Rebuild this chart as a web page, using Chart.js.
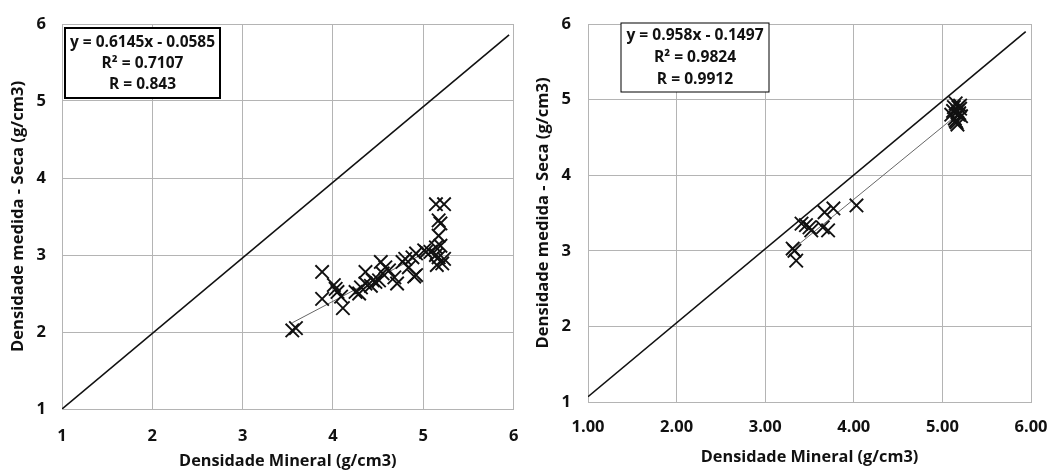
<!DOCTYPE html>
<html>
<head>
<meta charset="utf-8">
<script src="https://cdn.jsdelivr.net/npm/chart.js@4.4.1/dist/chart.umd.min.js"></script>
<style>
  html, body { margin: 0; padding: 0; background: #ffffff; }
  #wrap { position: relative; width: 1051px; height: 470px; overflow: hidden; }
  #c1 { position: absolute; left: 0; top: 0; }
  #c2 { position: absolute; left: 525px; top: 0; }
</style>
</head>
<body>
<div id="wrap">
  <canvas id="c1" width="525" height="470"></canvas>
  <canvas id="c2" width="526" height="470"></canvas>
</div>
<script>
// ---------- data: left chart ----------
const leftMineral = [3.55, 3.59, 3.88, 3.88, 4.01, 4.05, 4.09, 4.11, 4.03, 4.25, 4.29, 4.31, 4.36, 4.36, 4.44, 4.47,
  4.53, 4.51, 4.58, 4.62, 4.68, 4.71, 4.77, 4.80, 4.84, 4.92, 4.88, 4.92, 5.01, 5.03, 5.08, 5.14, 5.23, 5.17,
  5.19, 5.17, 5.19, 5.14, 5.17, 5.23, 5.15, 5.21, 5.14, 4.55, 4.42, 4.90];
const leftMeasured = [2.02, 2.05, 2.78, 2.43, 2.61, 2.52, 2.46, 2.31, 2.56, 2.52, 2.50, 2.58, 2.78, 2.63, 2.67, 2.65,
  2.91, 2.67, 2.84, 2.80, 2.71, 2.63, 2.91, 2.95, 2.84, 2.74, 2.97, 3.02, 3.06, 3.04, 3.04, 3.66, 3.66, 3.45,
  3.41, 3.25, 3.12, 3.10, 2.97, 2.95, 2.87, 2.89, 3.00, 2.76, 2.60, 2.72];
const leftTrendX = [3.55, 5.23];
const leftTrendY = [2.12, 3.16];
const leftRefX = [1, 5.95];
const leftRefY = [1, 5.86];
const leftEquation = ["y = 0.6145x - 0.0585", "R\u00B2 = 0.7107", "R = 0.843"];

// ---------- data: right chart ----------
const rightMineral = [3.31, 3.33, 3.35, 3.41, 3.46, 3.50, 3.52, 3.65, 3.71, 3.67, 3.77, 4.03,
  5.10, 5.12, 5.15, 5.18, 5.20, 5.14, 5.16, 5.17, 5.19, 5.21, 5.13, 5.17, 5.20, 5.15, 5.18];
const rightMeasured = [3.03, 3.00, 2.87, 3.36, 3.34, 3.31, 3.27, 3.31, 3.27, 3.51, 3.56, 3.60,
  4.80, 4.85, 4.95, 4.90, 4.88, 4.75, 4.70, 4.67, 4.82, 4.78, 4.90, 4.85, 4.92, 4.72, 4.80];
const rightTrendX = [3.31, 5.20];
const rightTrendY = [3.02, 4.83];
const rightRefX = [1, 5.94];
const rightRefY = [1.07, 5.90];
const rightEquation = ["y = 0.958x - 0.1497", "R\u00B2 = 0.9824", "R = 0.9912"];

// ---------- shared labels ----------
const xTitle = "Densidade Mineral (g/cm3)";
const yTitle = "Densidade medida - Seca (g/cm3)";
const axisMin = 1, axisMax = 6, axisStep = 1;

function pts(xs, ys) { return xs.map((x, i) => ({ x: x, y: ys[i] })); }

const FONT = "'Open Sans', 'Liberation Sans', sans-serif";

// choose a font size so that a text reaches a target width (style only)
const mctx = document.createElement('canvas').getContext('2d');
function fitSize(text, weight, target) {
  mctx.font = weight + ' 100px ' + FONT;
  const w = mctx.measureText(text).width;
  return Math.round(100 * target / w * 10) / 10;
}

const tickSize = fitSize("1.00", 'bold', 33);
const xTitleSize = fitSize(xTitle, 'bold', 218);
const yTitleSize = fitSize(yTitle, 'bold', 272);

function eqBoxPlugin(lines, box) {
  return {
    id: 'eqbox',
    afterDraw(chart) {
      const ctx = chart.ctx;
      const fs = fitSize(lines[0], 'bold', box.tw);
      ctx.save();
      ctx.fillStyle = '#ffffff';
      ctx.fillRect(box.x, box.y, box.w, box.h);
      ctx.strokeStyle = '#000000';
      ctx.lineWidth = box.lw;
      ctx.strokeRect(box.x, box.y, box.w, box.h);
      ctx.fillStyle = '#111111';
      ctx.font = 'bold ' + fs + 'px ' + FONT;
      ctx.textAlign = 'center';
      ctx.textBaseline = 'middle';
      lines.forEach((t, i) => ctx.fillText(t, box.x + box.w / 2, box.lineY[i]));
      ctx.restore();
    }
  };
}

function makeChart(id, xs, ys, tx, ty, rx, ry, lines, cfg) {
  return new Chart(document.getElementById(id), {
    type: 'scatter',
    data: {
      datasets: [
        {
          data: pts(xs, ys),
          pointStyle: 'crossRot',
          pointRadius: 9.5,
          pointBorderWidth: 1.9,
          borderColor: '#111111',
          backgroundColor: '#111111',
          showLine: false,
          order: 1
        },
        {
          data: pts(tx, ty),
          showLine: true,
          borderColor: '#666666',
          borderWidth: 1,
          pointRadius: 0,
          order: 2
        },
        {
          data: pts(rx, ry),
          showLine: true,
          borderColor: '#111111',
          borderWidth: 1.6,
          pointRadius: 0,
          order: 0
        }
      ]
    },
    options: {
      responsive: false,
      animation: false,
      events: [],
      layout: { padding: { left: 0, right: cfg.padRight, top: cfg.padTop, bottom: 0 } },
      plugins: { legend: { display: false }, tooltip: { enabled: false } },
      scales: {
        x: {
          type: 'linear',
          min: axisMin, max: axisMax,
          ticks: {
            stepSize: axisStep,
            color: '#111111',
            font: { family: FONT, size: tickSize, weight: 'bold' },
            padding: 0,
            callback: (v) => cfg.xDecimals ? Number(v).toFixed(2) : String(v)
          },
          grid: { color: '#b4b4b4', lineWidth: 1, drawTicks: true, tickLength: cfg.xTickPad, tickColor: 'rgba(0,0,0,0)' },
          border: { color: '#b4b4b4' },
          title: {
            display: true, text: xTitle, color: '#111111',
            font: { family: FONT, size: xTitleSize, weight: 'bold' },
            padding: { top: 0, bottom: cfg.xTitlePadBottom }
          },
          afterFit(scale) { scale.height = cfg.xAxisH; scale.paddingRight = 0; scale.paddingLeft = 0; }
        },
        y: {
          type: 'linear',
          min: axisMin, max: axisMax,
          ticks: {
            stepSize: axisStep,
            color: '#111111',
            font: { family: FONT, size: tickSize, weight: 'bold' },
            padding: 0
          },
          grid: { color: '#b4b4b4', lineWidth: 1, drawTicks: true, tickLength: cfg.yTickPad, tickColor: 'rgba(0,0,0,0)' },
          border: { color: '#b4b4b4' },
          title: {
            display: true, text: yTitle, color: '#111111',
            font: { family: FONT, size: yTitleSize, weight: 'bold' },
            padding: { top: cfg.yTitlePadTop, bottom: 0 }
          },
          afterFit(scale) { scale.width = cfg.yAxisW; }
        }
      }
    },
    plugins: [eqBoxPlugin(lines, cfg.box)]
  });
}

makeChart('c1', leftMineral, leftMeasured, leftTrendX, leftTrendY, leftRefX, leftRefY, leftEquation, {
  padRight: 10, padTop: 24, xAxisH: 61, yAxisW: 62, xTickPad: 17, yTickPad: 16,
  xTitlePadBottom: -1, yTitlePadTop: 8, xDecimals: false,
  box: { x: 65, y: 28, w: 155, h: 70, lw: 2, tw: 145, lineY: [43, 64, 85] }
});

makeChart('c2', rightMineral, rightMeasured, rightTrendX, rightTrendY, rightRefX, rightRefY, rightEquation, {
  padRight: 20, padTop: 24, xAxisH: 68, yAxisW: 63, xTickPad: 15, yTickPad: 17,
  xTitlePadBottom: 3, yTitlePadTop: 8, xDecimals: true,
  box: { x: 96, y: 23, w: 148, h: 69, lw: 1, tw: 137, lineY: [36, 58, 80] }
});
</script>
</body>
</html>
